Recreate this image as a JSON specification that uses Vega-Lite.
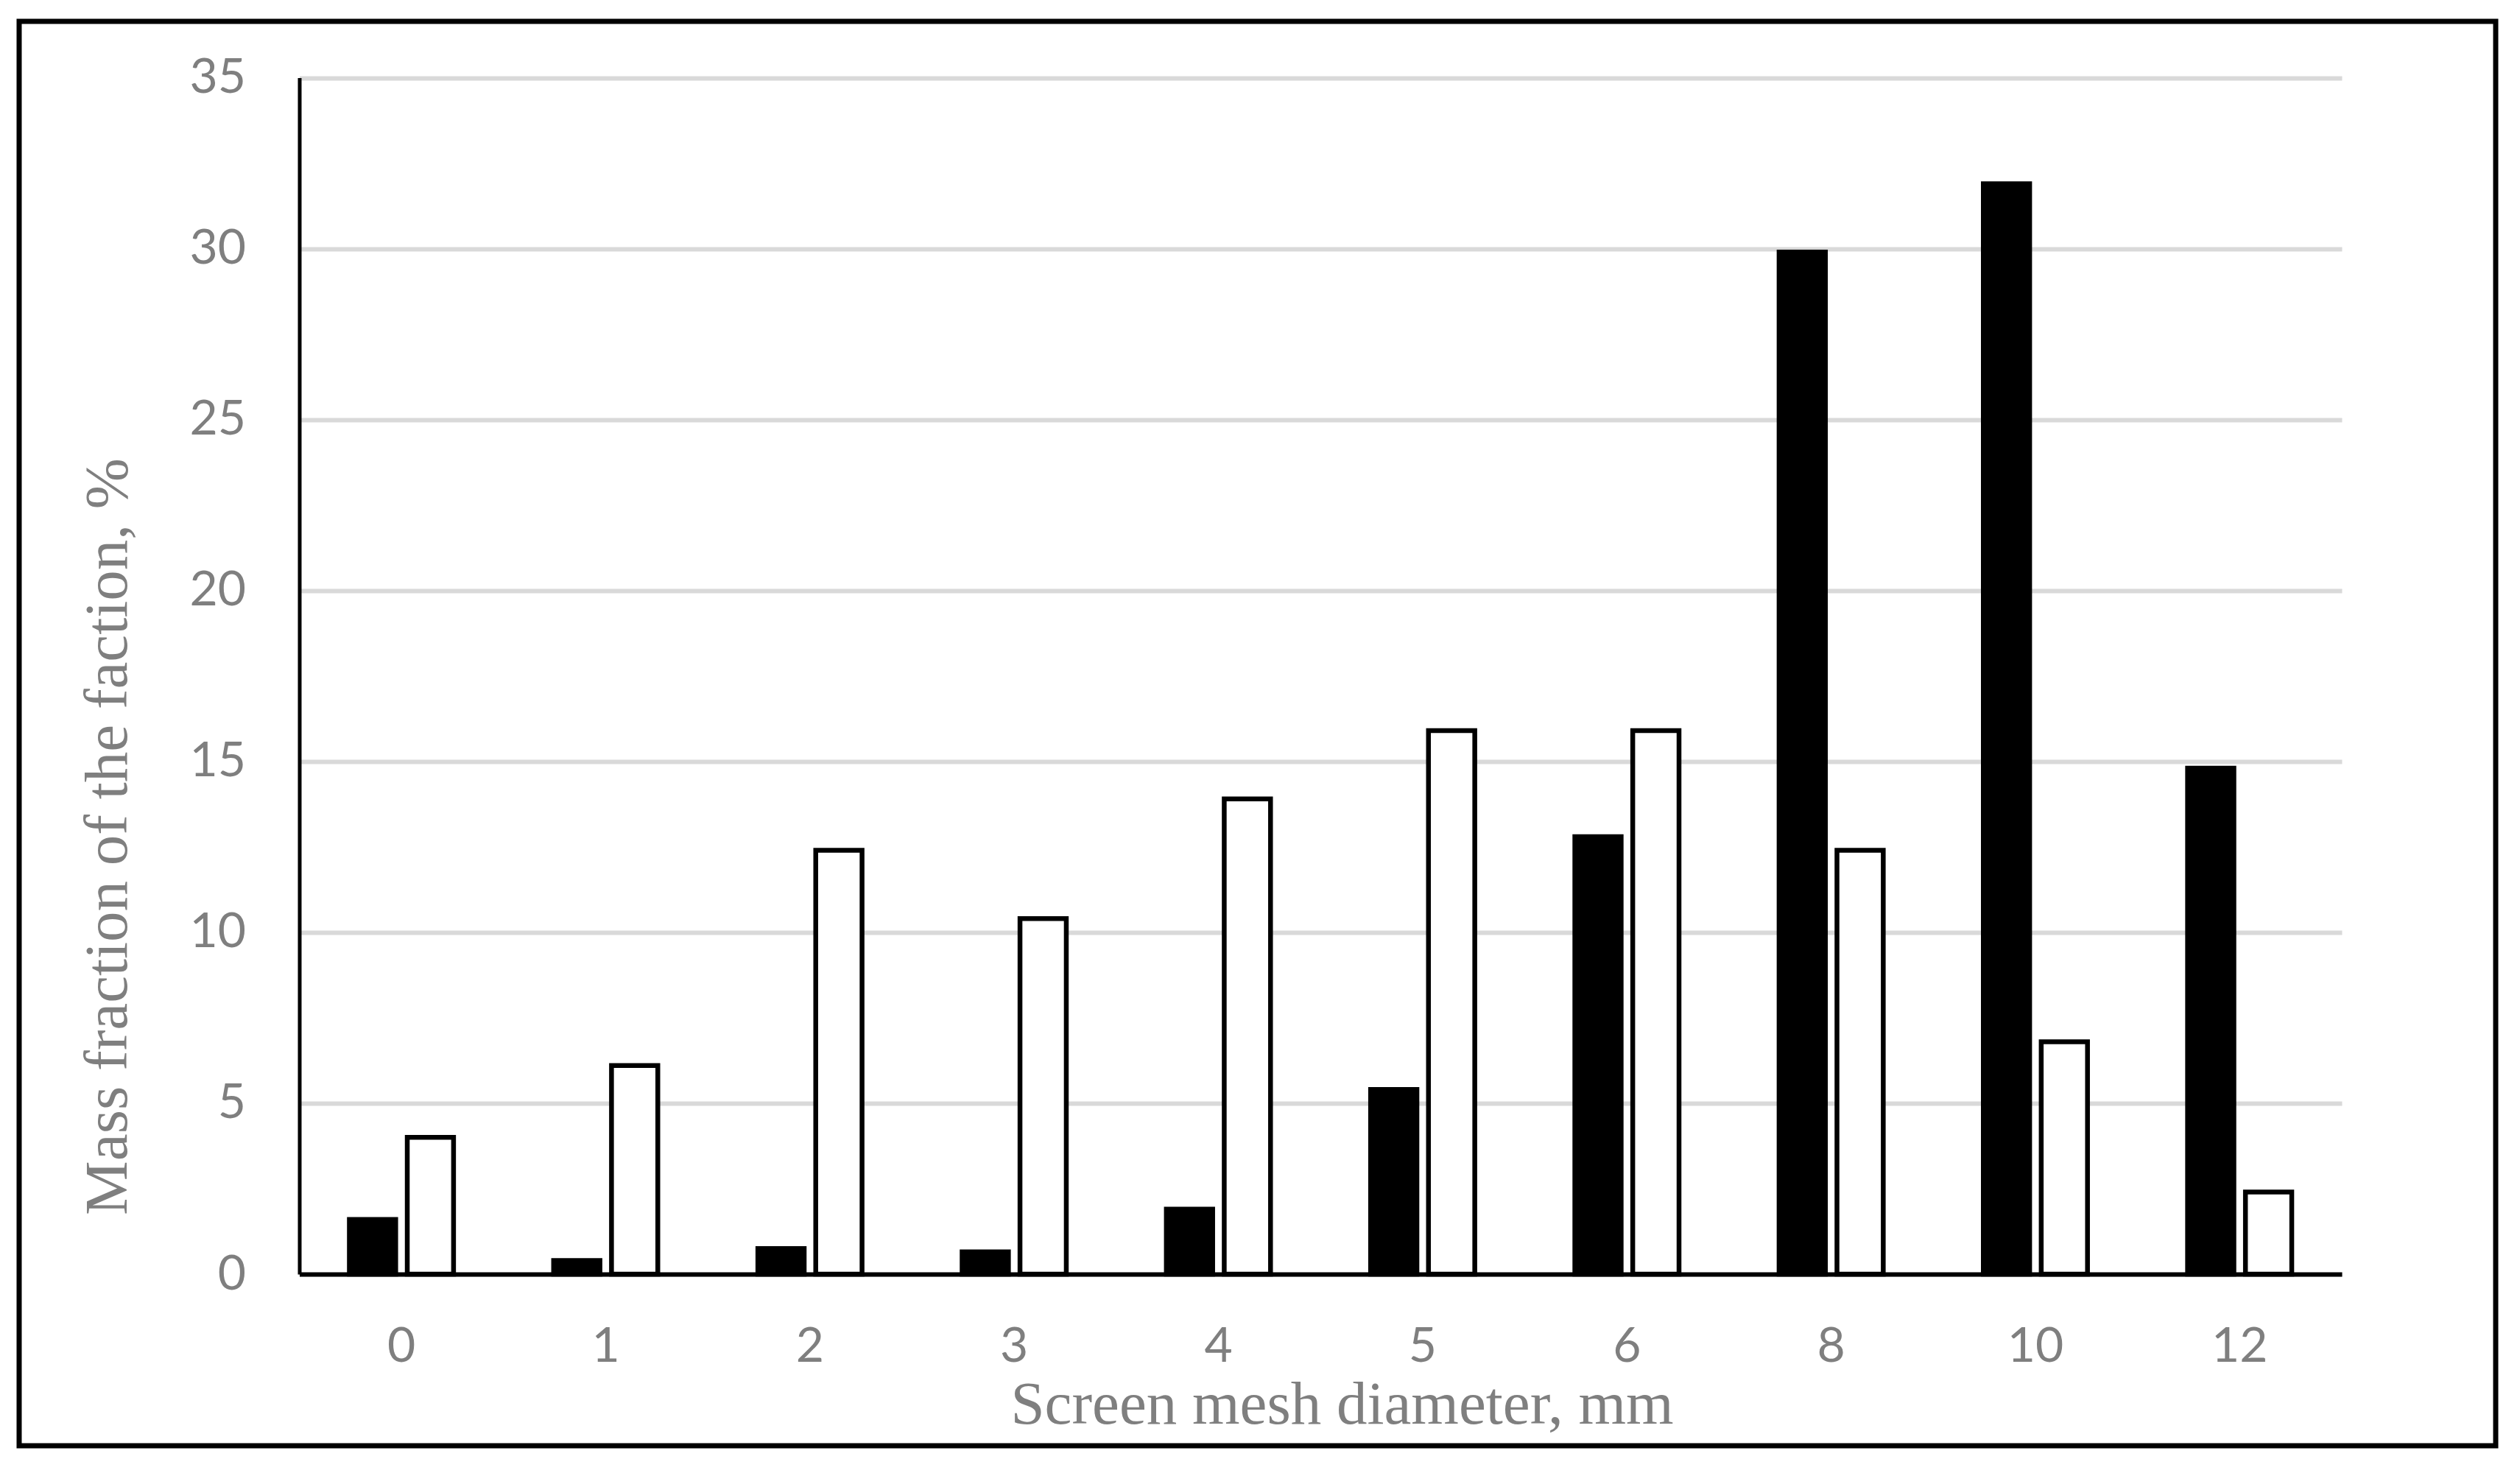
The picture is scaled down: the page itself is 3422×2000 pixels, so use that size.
{
  "$schema": "https://vega.github.io/schema/vega-lite/v6.json",
  "width": 3363,
  "height": 1934,
  "autosize": {"type": "none"},
  "padding": {"left": 26, "top": 29, "right": 33, "bottom": 37},
  "background": "white",
  "config": {"view": {"stroke": "black", "strokeWidth": 7}},
  "data": {
    "values": [
      {"d": "0", "series": "Series 1", "v": 1.6},
      {"d": "0", "series": "Series 2", "v": 4.0},
      {"d": "1", "series": "Series 1", "v": 0.4},
      {"d": "1", "series": "Series 2", "v": 6.1},
      {"d": "2", "series": "Series 1", "v": 0.75},
      {"d": "2", "series": "Series 2", "v": 12.4},
      {"d": "3", "series": "Series 1", "v": 0.65},
      {"d": "3", "series": "Series 2", "v": 10.4},
      {"d": "4", "series": "Series 1", "v": 1.9},
      {"d": "4", "series": "Series 2", "v": 13.9},
      {"d": "5", "series": "Series 1", "v": 5.4},
      {"d": "5", "series": "Series 2", "v": 15.9},
      {"d": "6", "series": "Series 1", "v": 12.8},
      {"d": "6", "series": "Series 2", "v": 15.9},
      {"d": "8", "series": "Series 1", "v": 29.9},
      {"d": "8", "series": "Series 2", "v": 12.4},
      {"d": "10", "series": "Series 1", "v": 31.9},
      {"d": "10", "series": "Series 2", "v": 6.8},
      {"d": "12", "series": "Series 1", "v": 14.8},
      {"d": "12", "series": "Series 2", "v": 2.4}
    ]
  },
  "mark": {"type": "bar", "stroke": "black", "strokeWidth": 6.5},
  "encoding": {
    "x": {
      "field": "d",
      "type": "nominal",
      "sort": ["0", "1", "2", "3", "4", "5", "6", "8", "10", "12"],
      "scale": {"range": [380.5, 3154], "paddingInner": 0.49, "paddingOuter": 0.245},
      "axis": {
        "title": "Screen mesh diameter, mm",
        "offset": -233,
        "ticks": false,
        "tickSize": 0,
        "domainColor": "black",
        "domainWidth": 6,
        "labelAngle": 0,
        "labelFont": "Lato",
        "labelFontSize": 66,
        "labelColor": "#7f7f7f",
        "labelPadding": 66,
        "titleFont": "Liberation Serif",
        "titleFontSize": 83,
        "titleFontWeight": "normal",
        "titleColor": "#7f7f7f",
        "titleX": 1796,
        "titleY": 202,
        "titleAlign": "center",
        "titleBaseline": "alphabetic",
        "zindex": 1,
        "grid": false
      }
    },
    "xOffset": {
      "field": "series",
      "type": "nominal",
      "scale": {"paddingInner": 0.2, "paddingOuter": 0}
    },
    "y": {
      "field": "v",
      "type": "quantitative",
      "scale": {"domain": [0, 35], "range": [1701, 76.5], "nice": false},
      "axis": {
        "title": "Mass fraction of the faction, %",
        "values": [0, 5, 10, 15, 20, 25, 30, 35],
        "offset": -380.5,
        "ticks": false,
        "tickSize": 0,
        "domainColor": "black",
        "domainWidth": 5,
        "grid": true,
        "gridColor": "#d9d9d9",
        "gridWidth": 6,
        "labelFont": "Lato",
        "labelFontSize": 66,
        "labelColor": "#7f7f7f",
        "labelPadding": 73,
        "titleFont": "Liberation Serif",
        "titleFontSize": 83,
        "titleFontWeight": "normal",
        "titleColor": "#7f7f7f",
        "titleX": -235.5,
        "titleY": 1106.5,
        "titleAlign": "center",
        "titleBaseline": "alphabetic",
        "titleAngle": -90
      }
    },
    "color": {
      "field": "series",
      "type": "nominal",
      "scale": {"range": ["#000000", "#ffffff"]},
      "legend": null
    }
  }
}
